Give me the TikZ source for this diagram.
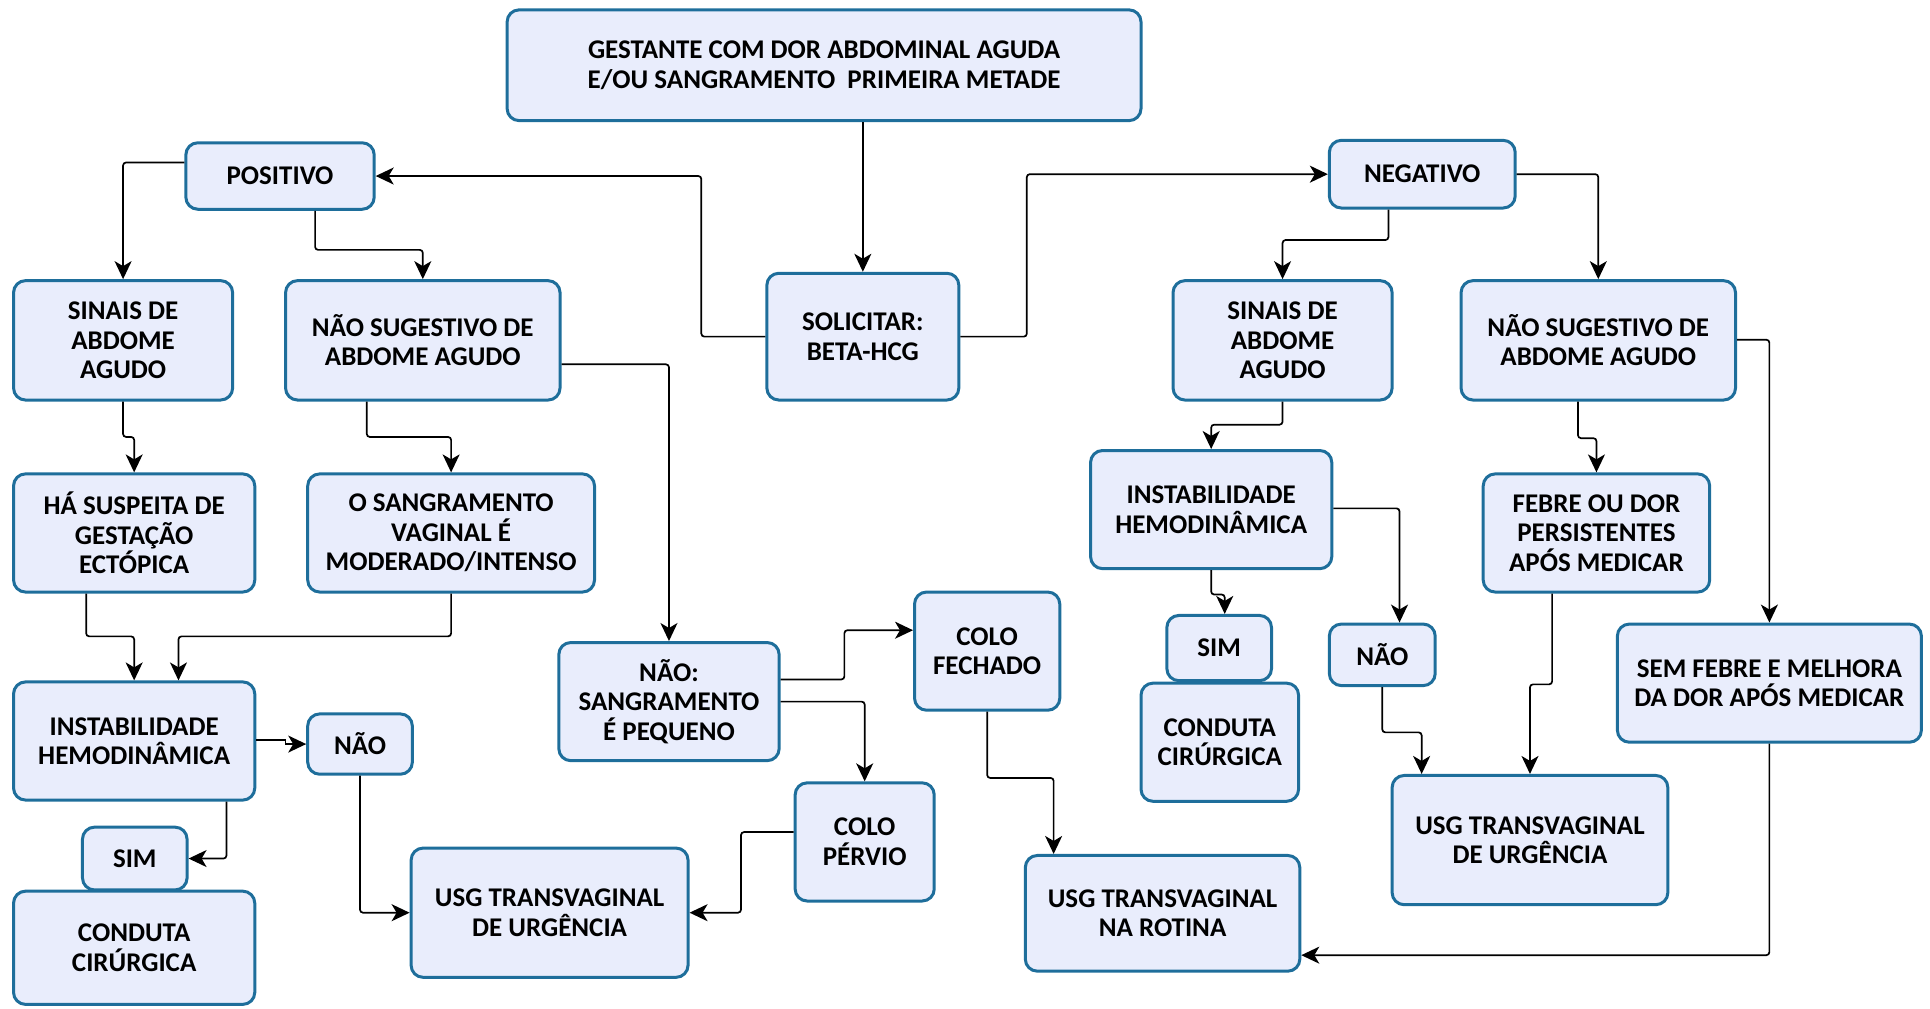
\documentclass[tikz,border=0pt]{standalone}
\usepackage{fontspec}
\setmainfont{Carlito}
\usetikzlibrary{arrows.meta}
\definecolor{boxfill}{RGB}{233,237,252}
\definecolor{boxdraw}{RGB}{30,110,155}
\newcommand\bx[6]{\node[box, minimum width={(#4-#2)*1.2309pt}, minimum height={(#5-#3)*1.2309pt}] (#1) at ({(#2+#4)/2},{(#3+#5)/2}) {#6};}
\begin{document}
\begin{tikzpicture}[x=1.2309pt,y=-1.2309pt,
 box/.style={draw=boxdraw, fill=boxfill, line width=3pt, rounded corners=12pt, inner sep=0pt, anchor=center, align=center, font=\bfseries\fontsize{27}{29.5}\selectfont},
 arr/.style={line width=1.7pt, -{Stealth[length=18pt,width=17pt,inset=5pt]}, rounded corners=3pt}]
\useasboundingbox (0,0) rectangle (1568,819);
\bx{g}{412}{8}{927}{98}{GESTANTE COM DOR ABDOMINAL AGUDA\\E/OU SANGRAMENTO~~PRIMEIRA METADE}
\bx{pos}{151}{116}{304}{170}{POSITIVO}
\bx{neg}{1080}{114}{1231}{169}{NEGATIVO}
\bx{sol}{623}{222}{779}{325}{SOLICITAR:\\BETA-HCG}
\bx{sl}{11}{228}{189}{325}{SINAIS DE\\ABDOME\\AGUDO}
\bx{nsl}{232}{228}{455}{325}{NÃO SUGESTIVO DE\\ABDOME AGUDO}
\bx{hs}{11}{385}{207}{481}{HÁ SUSPEITA DE\\GESTAÇÃO\\ECTÓPICA}
\bx{os}{250}{385}{483}{481}{O SANGRAMENTO\\VAGINAL É\\MODERADO/INTENSO}
\bx{il}{11}{554}{207}{650}{INSTABILIDADE\\HEMODINÂMICA}
\bx{naol}{250}{580}{335}{629}{NÃO}
\bx{siml}{67}{672}{152}{723}{SIM}
\bx{cl}{11}{724}{207}{816}{CONDUTA\\CIRÚRGICA}
\bx{ns}{454}{522}{633}{618}{NÃO:\\SANGRAMENTO\\É PEQUENO}
\bx{cf}{743}{481}{861}{577}{COLO\\FECHADO}
\bx{cp}{646}{636}{759}{732}{COLO\\PÉRVIO}
\bx{ul}{334}{689}{559}{794}{USG TRANSVAGINAL\\DE URGÊNCIA}
\bx{rot}{833}{695}{1056}{789}{USG TRANSVAGINAL\\NA ROTINA}
\bx{sr}{953}{228}{1131}{325}{SINAIS DE\\ABDOME\\AGUDO}
\bx{nsr}{1187}{228}{1410}{325}{NÃO SUGESTIVO DE\\ABDOME AGUDO}
\bx{ir}{886}{366}{1082}{462}{INSTABILIDADE\\HEMODINÂMICA}
\bx{feb}{1205}{385}{1389}{481}{FEBRE OU DOR\\PERSISTENTES\\APÓS MEDICAR}
\bx{simr}{948}{500}{1033}{553}{SIM}
\bx{cr}{927}{555}{1055}{651}{CONDUTA\\CIRÚRGICA}
\bx{naor}{1080}{507}{1166}{557}{NÃO}
\bx{uur}{1131}{630}{1355}{735}{USG TRANSVAGINAL\\DE URGÊNCIA}
\bx{sf}{1314}{507}{1561}{603}{SEM FEBRE E MELHORA\\DA DOR APÓS MEDICAR}

\draw[arr] (g.south -| sol.north) -- (sol.north);
\draw[arr] (sol.west) -- ++(-52,0) |- (pos.east);
\draw[arr] (sol.east) -- ++(54,0) |- (neg.west);
\draw[arr] (pos.west |- 0,132) -| (sl.north);
\draw[arr] (pos.south -| 256,0) -- (256,203) -| (nsl.north);
\draw[arr] (nsl.east |- 0,296) -| (ns.north);
\draw[arr] (sl.south) -- (100,355) -| (hs.north);
\draw[arr] (nsl.south -| 298,0) -- (298,355) -| (os.north);
\draw[arr] (hs.south -| 70,0) -- (70,517) -| (il.north);
\draw[arr] (os.south) -- (366.5,517) -| (il.north -| 145,0);
\draw[arr, rounded corners=0pt] (il.east |- 0,601) -- (232,601) |- (naol.west);
\draw[arr] (il.south -| 184,0) |- (siml.east);
\draw[arr] (naol.south) |- (ul.west);
\draw[arr] (ns.east |- 0,552) -- (686,552) |- (cf.west |- 0,512);
\draw[arr] (ns.east |- 0,570) -| (cp.north);
\draw[arr] (cp.west |- 0,676) -- (602,676) |- (ul.east);
\draw[arr] (cf.south) -- (802,632) -| (rot.north -| 856,0);
\draw[arr] (neg.south -| 1128,0) -- (1128,195) -| (sr.north);
\draw[arr] (neg.east) -| (nsr.north);
\draw[arr] (sr.south) -- (1042,345) -| (ir.north);
\draw[arr] (ir.east |- 0,413) -| (naor.north -| 1137,0);
\draw[arr] (ir.south) -- (984,483) -| (simr.north -| 995,0);
\draw[arr] (naor.south) -- (1123,595) -| (uur.north -| 1155,0);
\draw[arr] (nsr.south -| 1282,0) -- (1282,356) -| (feb.north);
\draw[arr] (feb.south -| 1261,0) -- (1261,556) -| (uur.north -| 1243,0);
\draw[arr] (nsr.east |- 0,276) -| (sf.north);
\draw[arr] (sf.south) |- (rot.east |- 0,776);
\end{tikzpicture}
\end{document}
